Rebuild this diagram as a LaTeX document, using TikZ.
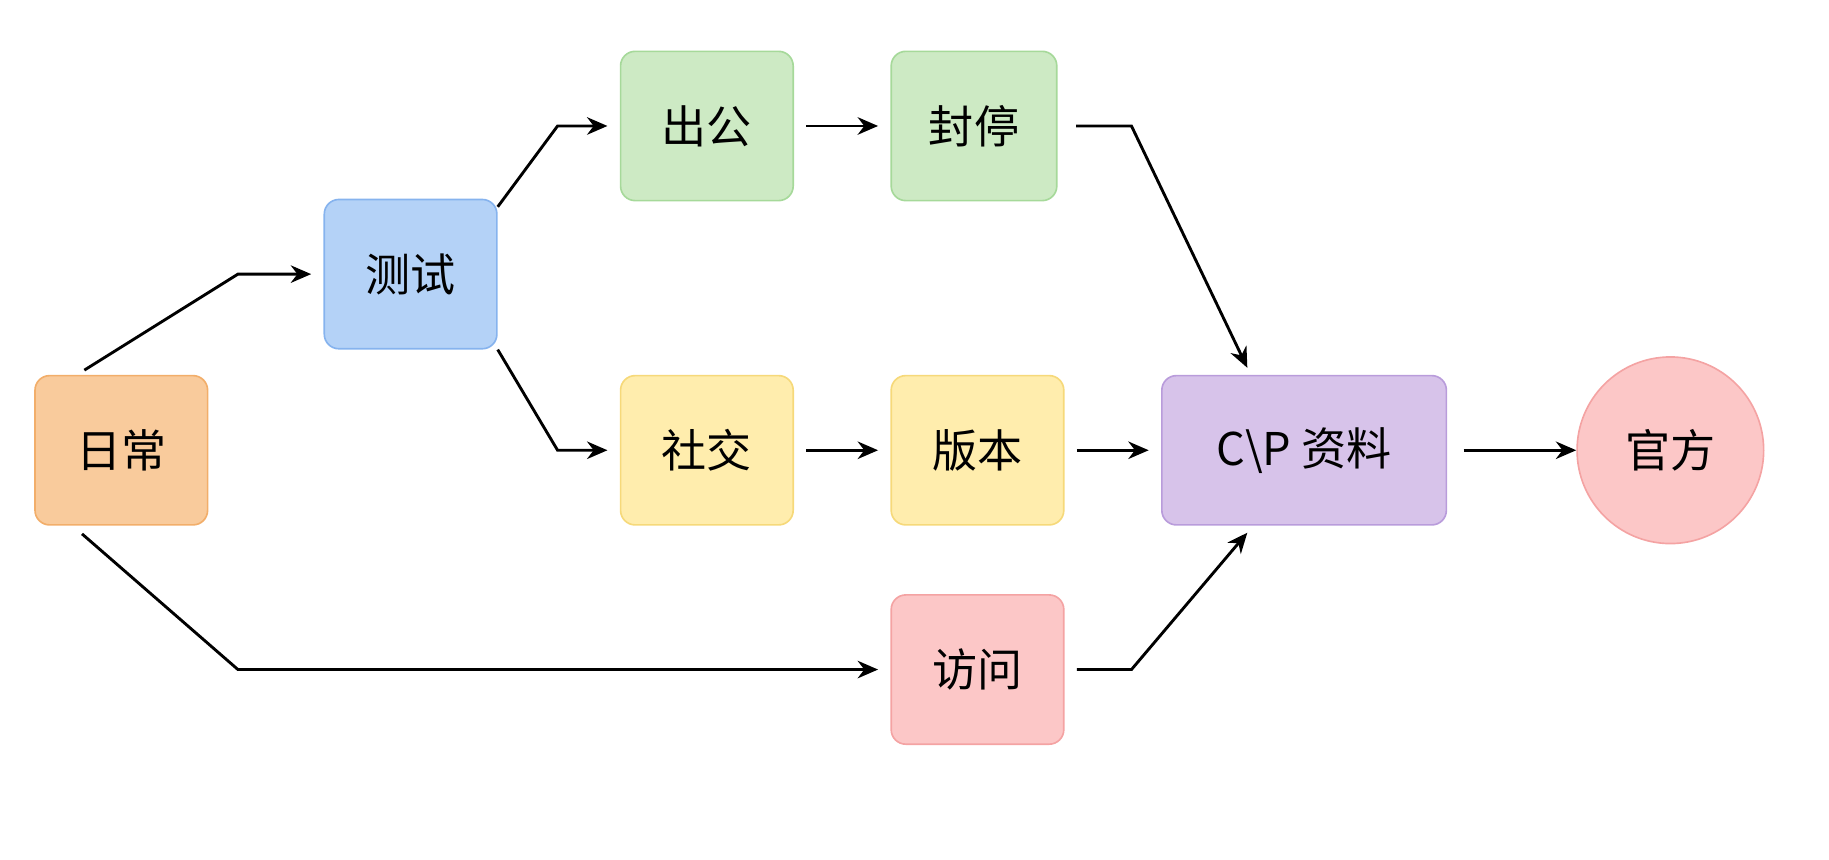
\documentclass[tikz,border=0pt]{standalone}
\usepackage{fontspec}
\setmainfont{Noto Sans CJK SC}
\usepackage{xcolor}
\usetikzlibrary{arrows.meta,positioning}

\definecolor{orangeF}{HTML}{F9CB9C}\definecolor{orangeD}{HTML}{F2AE6A}
\definecolor{blueF}{HTML}{B4D2F7}\definecolor{blueD}{HTML}{86B3EE}
\definecolor{greenF}{HTML}{CDEAC4}\definecolor{greenD}{HTML}{A6D99A}
\definecolor{yellowF}{HTML}{FFEDAD}\definecolor{yellowD}{HTML}{F6D97A}
\definecolor{purpleF}{HTML}{D7C3EA}\definecolor{purpleD}{HTML}{B99CDB}
\definecolor{pinkF}{HTML}{FCC7C7}\definecolor{pinkD}{HTML}{F4A3A3}

\begin{document}
\begin{tikzpicture}[
    x=0.02cm, y=-0.02cm,
    box/.style={rectangle, rounded corners=0.25cm, thick, minimum width=2.96cm, minimum height=2.56cm, text centered, font=\fontsize{22}{26}\selectfont},
    arrow/.style={-{Stealth[length=0.35cm,width=0.3cm]}, line width=1.4pt}
]
    \useasboundingbox (0,0) rectangle (1568,737);

    % Boxes
    \node[box, fill=orangeF, draw=orangeD] (daily) at (104,386) {日常};
    \node[box, fill=blueF, draw=blueD] (test) at (352,235) {测试};
    \node[box, fill=greenF, draw=greenD] (out) at (606,108) {出公};
    \node[box, fill=greenF, draw=greenD, minimum width=2.84cm] (ban) at (835,108) {封停};
    \node[box, fill=yellowF, draw=yellowD] (social) at (606,386) {社交};
    \node[box, fill=yellowF, draw=yellowD] (version) at (838,386) {版本};
    \node[box, fill=purpleF, draw=purpleD, minimum width=4.88cm] (cp) at (1118,386) {C\textbackslash P 资料};
    \node[box, fill=pinkF, draw=pinkD] (visit) at (838,574) {访问};
    \node[circle, fill=pinkF, draw=pinkD, thick, minimum size=3.2cm, font=\fontsize{22}{26}\selectfont] (official) at (1432,386) {官方};

    % Bends
    \coordinate (b1) at (204,235);
    \coordinate (b2) at (478,108);
    \coordinate (b3) at (478,386);
    \coordinate (b4) at (970,108);
    \coordinate (b5) at (204,574);
    \coordinate (b6) at (970,574);

    % Arrows
    \draw[arrow] ([shift={(43,-4)}]daily.north west) -- (b1) -- ([xshift=-6]test.west);
    \draw[arrow] ([shift={(0,7)}]test.north east) -- (b2) -- ([xshift=-6]out.west);
    \draw[arrow] ([shift={(0,0)}]test.south east) -- (b3) -- ([xshift=-6]social.west);
    \draw[arrow] ([xshift=6]out.east) -- ([xshift=-6]ban.west);
    \draw[arrow] ([xshift=9]ban.east) -- (b4) -- ([shift={(74,-6)}]cp.north west);
    \draw[arrow] ([xshift=6]social.east) -- ([xshift=-6]version.west);
    \draw[arrow] ([xshift=6]version.east) -- ([xshift=-6]cp.west);
    \draw[arrow] ([xshift=8]cp.east) -- (official);
    \draw[arrow] ([shift={(41,7)}]daily.south west) -- (b5) -- ([xshift=-6]visit.west);
    \draw[arrow] ([xshift=6]visit.east) -- (b6) -- ([shift={(74,6)}]cp.south west);
\end{tikzpicture}
\end{document}
